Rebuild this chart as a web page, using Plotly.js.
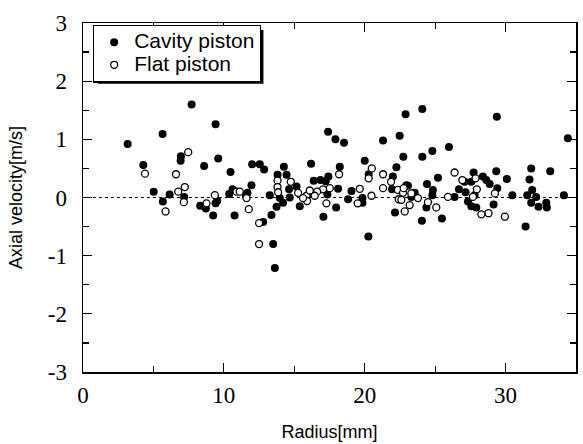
<!DOCTYPE html>
<html>
<head>
<meta charset="utf-8">
<script src="https://cdn.plot.ly/plotly-3.0.1.min.js"></script>
<style>html,body{margin:0;padding:0;background:#fff}#chart{width:583px;height:444px}</style>
</head>
<body>
<div id="chart"></div>
<script>
// Cavity piston (filled circles): radius [mm], axial velocity [m/s]
const cavityRadius = [3.17,7.71,9.41,5.65,4.28,6.95,6.93,9.6,8.6,10.47,5.02,6.15,5.67,7.18,8.32,8.72,9.41,9.53,9.24,10.76,10.62,10.38,
  22.9,17.4,17.92,18.53,21.3,22.48,22.74,12.01,12.55,12.86,14.26,13.81,14.45,16.19,11.96,11.56,11.68,13.26,13.97,14.2,14.63,14.68,15.16,15.39,13.74,13.38,12.79,13.5,13.62,16.38,16.86,17.23,17.42,16.29,17.35,17.07,17.97,18.11,18.23,18.82,19.06,20.0,20.28,19.84,19.84,20.26,22.0,22.25,21.94,22.15,22.96,
  24.09,29.38,34.42,24.09,24.8,25.98,25.2,24.42,23.07,23.55,23.31,24.84,24.8,24.38,24.06,25.48,26.38,26.69,27.09,27.16,27.57,27.73,27.33,27.57,27.92,27.8,28.39,28.63,28.87,29.34,29.41,29.15,30.09,30.48,31.42,31.54,31.7,31.82,31.89,31.82,32.17,32.34,32.89,32.93,33.17,34.14];
const cavityVelocity = [0.92,1.60,1.26,1.09,0.56,0.71,0.63,0.67,0.54,0.44,0.10,0.05,-0.07,0.01,-0.14,-0.19,-0.10,-0.05,-0.31,-0.31,0.14,0.06,
  1.43,1.13,1.0,0.94,0.98,1.06,0.70,0.57,0.57,0.48,0.53,0.39,0.39,0.58,0.21,0.03,0.08,0.04,-0.01,-0.09,0.14,0.0,0.19,-0.15,-0.16,-0.30,-0.42,-0.80,-1.21,0.29,0.30,0.28,0.36,0.07,0.05,-0.33,-0.17,0.15,0.53,-0.03,0.11,0.63,0.40,-0.01,-0.09,-0.67,0.36,0.52,0.14,-0.26,0.21,
  1.52,1.39,1.02,0.70,0.80,0.87,0.34,0.23,0.20,0.08,0.01,0.13,0.04,-0.17,-0.40,-0.36,0.01,0.14,0.27,0.09,0.27,0.43,-0.07,-0.15,-0.17,0.04,0.36,0.30,0.23,0.45,0.16,-0.12,0.32,0.04,-0.50,0.04,0.31,0.50,0.13,-0.09,0.01,-0.16,-0.09,-0.17,0.45,0.04];

// Flat piston (open circles)
const flatRadius = [7.47,4.40,6.60,7.23,6.76,7.16,5.86,8.77,9.36,10.9,
  20.5,20.28,21.3,21.3,19.65,19.5,20.48,18.18,17.28,17.52,17.04,16.62,16.45,15.87,15.91,15.62,16.1,15.27,14.75,13.81,13.81,13.85,11.77,12.5,12.5,11.13,11.61,22.84,22.41,22.36,22.72,21.87,
  26.38,26.93,27.87,27.96,27.68,25.91,25.08,24.49,23.19,22.6,22.77,23.31,23.78,28.28,28.79,29.24,29.95];
const flatVelocity = [0.78,0.41,0.40,0.18,0.10,-0.08,-0.24,-0.10,0.04,0.10,
  0.50,0.33,0.40,0.16,0.15,-0.10,0.03,0.40,-0.10,0.16,0.14,0.10,0.03,0.03,-0.06,-0.01,0.12,0.08,0.27,0.29,0.18,0.09,-0.20,-0.44,-0.80,0.10,-0.01,-0.24,-0.03,0.13,0.08,0.27,
  0.43,0.30,0.33,0.14,0.01,0.01,-0.17,-0.08,-0.13,-0.04,0.16,0.07,-0.01,-0.29,-0.27,0.07,-0.33];

const seriesNames = ["Cavity piston", "Flat piston"];
const xTickVals = [0, 10, 20, 30];
const xTickText = ["0", "10", "20", "30"];
const yTickVals = [-3, -2, -1, 0, 1, 2, 3];
const yTickText = ["-3", "-2", "-1", "0", "1", "2", "3"];
const referenceLevel = 0;

const legendLabel = s => '<span style="font-size:21px">' + s + '</span>';

const traces = [
  {x: cavityRadius, y: cavityVelocity, name: legendLabel(seriesNames[0]), type: "scatter", mode: "markers",
   marker: {symbol: "circle", size: 8, color: "#000", line: {width: 0}}},
  {x: flatRadius, y: flatVelocity, name: legendLabel(seriesNames[1]), type: "scatter", mode: "markers",
   marker: {symbol: "circle", size: 7, color: "#fff", line: {width: 1.3, color: "#000"}}}
];

const serifFamily = "Liberation Serif, DejaVu Serif, serif";
const sansFamily = "Liberation Sans, Arial, sans-serif";
const tickFont = {family: serifFamily, size: 23, color: "#000"};
const titleFont = {family: sansFamily, size: 18, color: "#000"};

const layout = {
  width: 583, height: 444,
  font: {family: sansFamily, size: 15, color: "#000"},
  margin: {l: 83, r: 7, t: 23, b: 72, pad: 0},
  paper_bgcolor: "#fff", plot_bgcolor: "#fff",
  showlegend: true,
  legend: {x: 0.02, y: 0.995, xanchor: "left", yanchor: "top", bgcolor: "#fff",
    bordercolor: "#000", borderwidth: 1.3, itemwidth: 30,
    font: {family: sansFamily, size: 15, color: "#000"}},
  xaxis: {range: [0, 35], tickvals: xTickVals, ticktext: xTickText,
    ticks: "inside", ticklen: 9, tickwidth: 1.2, tickcolor: "#000",
    minor: {dtick: 5, ticks: "inside", ticklen: 6, tickwidth: 1.2, tickcolor: "#000"},
    showline: true, linecolor: "#000", linewidth: 1.5, mirror: "ticks",
    showgrid: false, zeroline: false, tickfont: tickFont, ticklabelstandoff: 2,
    title: {text: "Radius[mm]", font: titleFont, standoff: 18}},
  yaxis: {range: [-3, 3], tickvals: yTickVals, ticktext: yTickText,
    ticks: "inside", ticklen: 9, tickwidth: 1.2, tickcolor: "#000",
    minor: {dtick: 0.5, ticks: "inside", ticklen: 6, tickwidth: 1.2, tickcolor: "#000"},
    showline: true, linecolor: "#000", linewidth: 1.5, mirror: "ticks",
    showgrid: false, zeroline: false, tickfont: tickFont, ticklabelstandoff: 10,
    title: {text: "Axial velocity[m/s]", font: titleFont, standoff: 20}},
  shapes: [
    {type: "line", xref: "paper", yref: "y", x0: 0.02, x1: 1, y0: referenceLevel, y1: referenceLevel,
     line: {color: "#000", width: 1, dash: "3px,3px"}, layer: "below"},
    // drop shadow under the legend box
    {type: "rect", xref: "paper", yref: "paper", x0: 0.03, x1: 0.366, y0: 0.826, y1: 0.98,
     fillcolor: "#000", line: {width: 0}, layer: "above"}
  ]
};

Plotly.newPlot("chart", traces, layout, {displayModeBar: false, staticPlot: true});
</script>
</body>
</html>
